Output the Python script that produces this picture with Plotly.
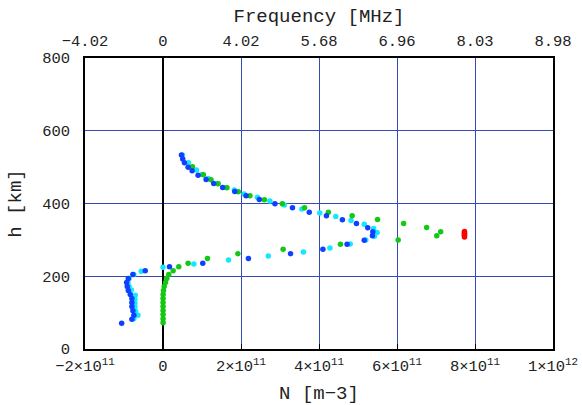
import plotly.graph_objects as go

# ---- data (N in m^-3, h in km) ----
blue_N = [4.73e10, 5.06e10, 5.50e10, 6.44e10, 7.47e10, 9.0e10, 1.105e11, 1.30e11, 1.53e11, 1.84e11,
          2.13e11, 2.47e11, 2.87e11, 3.32e11, 3.75e11, 4.19e11, 4.60e11, 4.96e11, 5.25e11, 5.38e11,
          5.37e11, 5.16e11, 4.72e11, 4.10e11, 3.27e11, 2.19e11, 1.02e11, 1.66e10, -4.55e10, -7.72e10,
          -8.9e10, -9.33e10, -9.16e10, -8.9e10, -8.39e10, -7.98e10, -7.98e10, -7.98e10, -7.72e10,
          -7.47e10, -7.98e10, -1.06e11]
blue_h = [533, 522, 512, 500, 490, 478, 466, 455, 444, 433,
          421, 411, 399, 388, 376, 366, 355, 345, 333, 322,
          311, 299, 288, 274, 262, 249, 236, 226, 215, 205,
          194, 183, 172, 161, 150, 139, 128, 117, 105,
          93, 82, 71]

cyan_N = [4.99e10, 6.52e10, 8.57e10, 1.0e11, 1.16e11, 1.41e11, 1.62e11, 1.83e11, 2.08e11, 2.42e11,
          2.74e11, 3.11e11, 3.56e11, 4.02e11, 4.43e11, 4.82e11, 5.16e11, 5.40e11, 5.49e11, 5.42e11,
          5.20e11, 4.80e11, 4.28e11, 3.60e11, 2.70e11, 1.68e11, 7.9e10, 0.0, -5.58e10, -7.5e10,
          -8.7e10, -9.0e10, -8.7e10, -8.13e10, -7.11e10, -7.21e10, -7.21e10, -7.21e10, -7.03e10,
          -6.45e10, -7.47e10]
cyan_h = [533, 512, 492, 480, 469, 455, 444, 437, 426, 417,
          407, 396, 385, 374, 364, 353, 343, 331, 320, 310,
          300, 289, 278, 267, 256, 245, 234, 225, 214, 205,
          194, 183, 172, 162, 148, 137, 126, 116, 104,
          93, 83]

green_N = [7.54e10, 1.036e11, 1.23e11, 1.41e11, 1.64e11, 1.93e11, 2.23e11, 2.60e11, 3.06e11, 3.63e11,
           4.24e11, 4.85e11, 5.50e11, 6.17e11, 6.76e11, 7.12e11, 7.02e11, 6.03e11, 4.55e11, 3.08e11,
           1.92e11, 1.14e11, 6.44e10, 4.04e10, 2.6e10, 1.48e10, 9.7e9, 6.4e9, 3.0e9, 1.3e9,
           3e8, 2e8, 2e8, 2e8, 2e8, 2e8, 2e8, 2e8]
green_h = [501, 479, 465, 454, 443, 432, 421, 410, 399, 388,
           376, 366, 356, 345, 334, 322, 311, 300, 288, 274,
           262, 249, 236, 226, 215, 205, 194, 183, 172, 161,
           150, 139, 128, 117, 106, 95, 83, 72]

red_N = [7.73e11, 7.73e11, 7.73e11, 7.73e11, 7.73e11, 7.73e11]
red_h = [308, 311, 314, 317, 320, 323]

n_ticks = [-2e11, 0, 2e11, 4e11, 6e11, 8e11, 1e12]
n_labels = ["\u22122\u00d710<sup>11</sup>", "0", "2\u00d710<sup>11</sup>", "4\u00d710<sup>11</sup>",
            "6\u00d710<sup>11</sup>", "8\u00d710<sup>11</sup>", "1\u00d710<sup>12</sup>"]
freq_labels = ["\u22124.02", "0", "4.02", "5.68", "6.96", "8.03", "8.98"]
h_ticks = [0, 200, 400, 600, 800]

FONT = "Liberation Mono, Courier New, monospace"
GRID = "rgb(55,75,180)"

fig = go.Figure()
ms = 5.5
fig.add_trace(go.Scatter(x=cyan_N, y=cyan_h, mode="markers",
                         marker=dict(size=ms, color="rgb(20,232,255)"), showlegend=False))
fig.add_trace(go.Scatter(x=green_N, y=green_h, mode="markers",
                         marker=dict(size=ms, color="rgb(20,200,20)"), showlegend=False))
fig.add_trace(go.Scatter(x=blue_N, y=blue_h, mode="markers",
                         marker=dict(size=ms, color="rgb(16,64,255)"), showlegend=False))
fig.add_trace(go.Scatter(x=red_N, y=red_h, mode="markers",
                         marker=dict(size=ms, color="rgb(255,0,0)"), showlegend=False))
# invisible trace to activate the top axis
fig.add_trace(go.Scatter(x=[0], y=[0], xaxis="x2", mode="markers",
                         marker=dict(size=1, opacity=0), showlegend=False, hoverinfo="skip"))

fig.update_layout(
    width=582, height=405,
    margin=dict(l=85, r=29, t=58, b=56),
    paper_bgcolor="white", plot_bgcolor="white",
    font=dict(family=FONT, size=15.5, color="#222"),
    xaxis=dict(range=[-2e11, 1e12], tickvals=n_ticks, ticktext=n_labels, automargin=False,
               showgrid=True, gridcolor=GRID, gridwidth=1.2,
               zeroline=True, zerolinecolor="black", zerolinewidth=1.5,
               showline=True, linecolor="black", linewidth=1.5, mirror=True,
               ticks="inside", ticklen=5, tickcolor="black", ticklabelstandoff=2,
               title=dict(text="N [m\u22123]", standoff=10)),
    xaxis2=dict(range=[-2e11, 1e12], overlaying="x", side="top", automargin=False,
                tickvals=n_ticks, ticktext=freq_labels, ticklabelstandoff=8,
                showgrid=False, zeroline=False, showline=False, ticks="",
                title=dict(text="Frequency [MHz]", standoff=5)),
    yaxis=dict(range=[0, 800], tickvals=h_ticks, automargin=False,
               showgrid=True, gridcolor=GRID, gridwidth=1.2,
               zeroline=False,
               showline=True, linecolor="black", linewidth=1.5, mirror=True,
               ticks="", ticklabelstandoff=10,
               title=dict(text="h [km]", standoff=16)),
)

fig.write_html("out.html", config={"displayModeBar": False},
               post_script="document.body.style.margin='0';")
